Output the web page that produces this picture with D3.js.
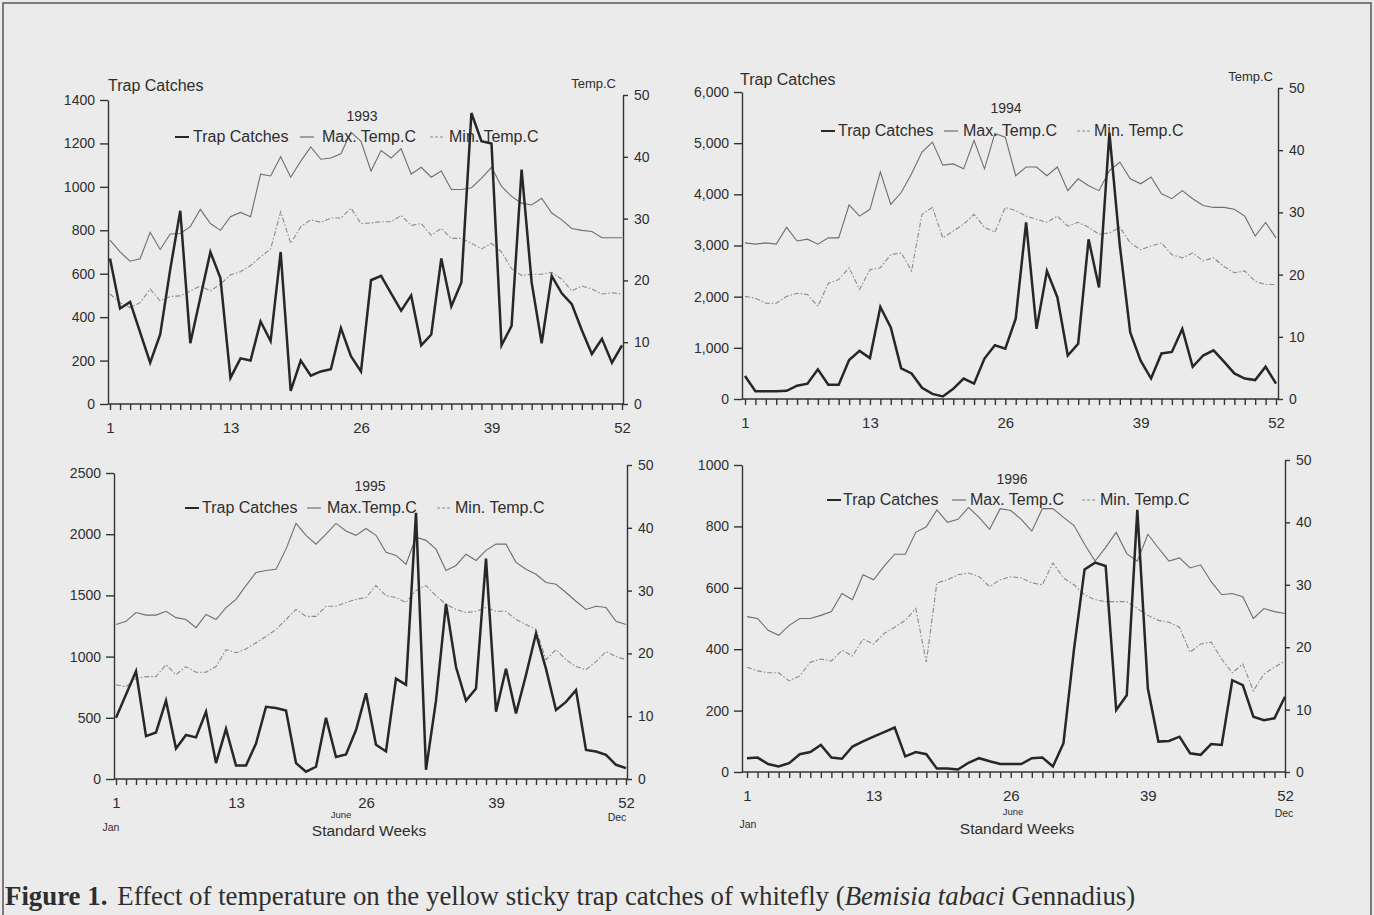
<!DOCTYPE html>
<html>
<head>
<meta charset="utf-8" />
<style>
  body { margin: 0; background: #ebebeb; }
  svg { display: block; }
  text { font-family: "Liberation Sans", Arial, sans-serif; fill: #2e2e2e; }
</style>
</head>
<body>
<svg id="fig" width="1374" height="915"></svg>
<script src="https://cdnjs.cloudflare.com/ajax/libs/d3/7.8.5/d3.min.js"></script>
<script>
var weeks = d3.range(1, 53);
var weekTicks = [1, 13, 26, 39, 52];
var tempTicks = [0, 10, 20, 30, 40, 50];
var legendNames = ['Trap Catches', 'Max. Temp.C', 'Min. Temp.C'];

var catchTicks1993 = [0, 200, 400, 600, 800, 1000, 1200, 1400];
var catchTicks1994 = [0, 1000, 2000, 3000, 4000, 5000, 6000];
var catchTicks1995 = [0, 500, 1000, 1500, 2000, 2500];
var catchTicks1996 = [0, 200, 400, 600, 800, 1000];

var catch1993 = [670,440,470,330,190,320,620,890,280,490,700,580,120,210,200,380,290,700,60,200,130,150,160,350,220,150,570,590,510,430,500,270,320,670,450,560,1340,1210,1200,270,360,1080,560,280,590,510,460,340,230,300,190,270];
var max1993 = [26.5,24.6,23.1,23.5,27.8,25.0,27.5,27.6,28.7,31.5,29.2,28.1,30.3,31.0,30.3,37.2,36.9,40.0,36.7,39.3,41.6,39.6,39.8,40.5,44.0,42.5,37.7,41.0,39.8,41.3,37.2,38.3,36.7,37.7,34.7,34.7,35.0,36.5,38.3,35.2,33.6,32.5,32.2,33.3,30.9,29.8,28.4,28.1,27.9,26.9,26.9,26.9];
var min1993 = [17.8,16.4,15.6,16.4,18.6,16.7,17.4,17.5,18.3,19.1,18.3,19.4,20.9,21.4,22.4,23.8,25.1,31.1,26.0,28.7,29.8,29.4,30.1,30.1,31.7,29.2,29.3,29.5,29.5,30.5,28.9,29.2,27.3,28.4,26.8,26.8,26.0,25.1,26.0,24.6,21.9,20.8,21.0,21.0,21.3,20.2,18.3,19.1,18.6,17.8,18.0,17.8];

var catch1994 = [450,150,150,150,160,260,300,580,280,280,760,940,800,1800,1400,600,500,220,100,50,200,400,300,790,1050,985,1570,3450,1370,2500,1990,850,1080,3120,2180,5200,3000,1300,750,400,890,920,1370,630,850,950,730,500,400,370,630,300];
var max1994 = [25.1,24.9,25.1,24.9,27.6,25.4,25.7,24.9,25.9,25.9,31.2,29.4,30.5,36.5,31.3,33.2,36.2,39.7,41.3,37.6,37.8,37.0,41.6,37.0,42.7,42.1,35.9,37.3,37.3,35.9,37.3,33.5,35.4,34.3,33.5,36.7,38.1,35.4,34.6,35.7,33.0,32.2,33.5,32.2,31.1,30.8,30.8,30.5,29.4,26.2,28.4,25.9];
var min1994 = [16.5,16.2,15.4,15.4,16.5,17.0,16.8,14.9,18.6,19.2,21.1,17.6,20.8,21.1,23.2,23.5,20.6,29.7,30.8,25.9,27.0,28.1,29.7,27.6,26.8,30.8,30.3,29.4,28.9,28.4,29.4,27.8,28.4,27.6,26.5,26.7,27.6,25.1,24.0,24.6,25.1,23.2,22.7,23.5,22.2,22.7,21.3,20.3,20.6,18.9,18.4,18.4];

var catch1995 = [500,690,880,350,380,640,250,360,340,550,130,410,110,110,290,590,580,560,130,60,100,500,180,200,400,700,280,225,820,770,2175,76,640,1430,915,640,740,1800,550,900,536,850,1190,900,563,630,726,238,225,197,116,89];
var max1995 = [24.6,25.1,26.5,26.1,26.1,26.7,25.7,25.4,24.1,26.2,25.4,27.3,28.6,30.8,32.9,33.2,33.4,36.6,40.7,38.8,37.4,39.0,40.7,39.5,38.8,39.9,38.8,36.1,35.6,34.2,38.5,38.0,36.6,33.2,34.0,35.8,34.8,36.4,37.4,37.4,34.5,33.4,32.6,31.3,31.0,29.7,28.3,27.0,27.5,27.3,25.1,24.6];
var min1995 = [15.0,14.7,16.0,16.3,16.3,18.2,16.6,17.9,17.0,17.0,17.9,20.6,20.1,20.7,21.7,22.7,23.8,25.4,27.0,25.9,25.9,27.5,27.5,28.1,28.6,28.9,30.8,29.2,28.9,28.1,30.0,30.8,29.2,27.8,27.0,26.5,26.7,27.3,26.7,26.7,25.4,24.6,23.8,19.0,20.6,19.0,17.9,17.4,18.7,20.3,19.5,19.0];

var catch1996 = [45,47,26,18,29,58,65,88,47,43,83,100,115,130,145,51,65,58,11,11,8,30,45,35,26,26,26,45,47,18,94,400,660,682,671,202,250,854,272,99,101,115,61,56,91,88,299,283,180,169,175,245];
var max1996 = [24.9,24.6,22.7,21.9,23.5,24.6,24.6,25.1,25.7,28.6,27.6,31.6,30.8,33.0,34.9,34.9,38.4,39.3,42.0,40.0,40.5,42.4,40.8,38.9,42.2,41.9,40.5,38.6,42.2,42.2,40.8,39.5,36.5,33.8,36.0,38.4,35.0,33.8,38.1,35.9,33.8,34.3,32.7,33.2,30.5,28.4,28.6,28.1,24.6,26.2,25.7,25.4];
var min1996 = [16.8,16.2,15.9,15.9,14.6,15.4,17.6,18.1,17.8,19.5,18.6,21.3,20.5,22.2,23.2,24.3,26.2,17.6,30.3,30.8,31.6,31.9,31.3,29.7,30.8,31.3,31.1,30.3,30.0,33.5,31.1,30.0,28.4,27.6,27.3,27.3,27.3,26.2,25.1,24.3,24.0,23.2,19.2,20.5,20.8,18.1,15.9,17.3,13.0,15.7,16.8,17.8];

var svg = d3.select('#fig');

// frame of the scanned page
svg.append('path')
    .attr('d', 'M3,918V3H1371V918')
    .attr('fill', 'none')
    .attr('stroke', '#555')
    .attr('stroke-width', 1.5);

var panels = [
    {title: '1993', catches: catch1993, maxT: max1993, minT: min1993, ticks: catchTicks1993, fmt: d3.format('d'),
     x0: 110, x1: 622, axL: 108, axR: 623, base: 404, topL: 100, topR: 95,
     titleX: 362, titleY: 121, legY: 137, leg: [[175, 193], [300, 322], [430, 449]],
     yLabel: [108, 91], tLabel: [616, 88], months: null},
    {title: '1994', catches: catch1994, maxT: max1994, minT: min1994, ticks: catchTicks1994, fmt: d3.format(','),
     x0: 745, x1: 1276, axL: 742, axR: 1278, base: 399, topL: 92, topR: 88,
     titleX: 1006, titleY: 113, legY: 131, leg: [[821, 838], [944, 963], [1077, 1094]],
     yLabel: [740, 85], tLabel: [1273, 81], months: null},
    {title: '1995', catches: catch1995, maxT: max1995, minT: min1995, ticks: catchTicks1995, fmt: d3.format('d'),
     x0: 116, x1: 626, axL: 114, axR: 627, base: 779, topL: 473, topR: 465,
     titleX: 370, titleY: 491, legY: 508, leg: [[185, 202], [307, 327], [437, 455]],
     yLabel: null, tLabel: null, names: ['Trap Catches', 'Max.Temp.C', 'Min. Temp.C'],
     months: {jan: [111, 831], june: [341, 818], dec: [617, 821], sw: [369, 836]}},
    {title: '1996', catches: catch1996, maxT: max1996, minT: min1996, ticks: catchTicks1996, fmt: d3.format('d'),
     x0: 747, x1: 1285, axL: 742, axR: 1285, base: 772, topL: 465, topR: 460,
     titleX: 1012, titleY: 484, legY: 500, leg: [[827, 843], [952, 970], [1082, 1100]],
     yLabel: null, tLabel: null,
     months: {jan: [748, 828], june: [1013, 815], dec: [1284, 817], sw: [1017, 834]}}
];

var styles = [
    {stroke: '#272727', width: 2.5, dash: null},
    {stroke: '#6e6e6e', width: 1.1, dash: null},
    {stroke: '#8a8a8a', width: 1.1, dash: '5,2,1.5,2'}
];

panels.forEach(function(p) {
    var g = svg.append('g');
    var x = d3.scaleLinear().domain([1, 52]).range([p.x0, p.x1]);
    var yL = d3.scaleLinear().domain([0, d3.max(p.ticks)]).range([p.base, p.topL]);
    var yR = d3.scaleLinear().domain([0, 50]).range([p.base, p.topR]);

    // week axis
    var xa = g.append('g')
        .attr('transform', 'translate(0,' + p.base + ')')
        .call(d3.axisBottom(x).tickValues(weeks).tickSize(6).tickSizeOuter(0).tickPadding(12)
            .tickFormat(function(d) { return weekTicks.indexOf(d) >= 0 ? d : ''; }));
    xa.select('.domain').remove();
    g.append('line')
        .attr('x1', p.axL).attr('x2', p.axR)
        .attr('y1', p.base).attr('y2', p.base)
        .attr('stroke', '#333').attr('stroke-width', 1.5);

    var la = g.append('g')
        .attr('transform', 'translate(' + p.axL + ',0)')
        .call(d3.axisLeft(yL).tickValues(p.ticks).tickSize(8).tickSizeOuter(0).tickPadding(5).tickFormat(p.fmt));

    var ra = g.append('g')
        .attr('transform', 'translate(' + p.axR + ',0)')
        .call(d3.axisRight(yR).tickValues(tempTicks).tickSize(5).tickSizeOuter(0).tickPadding(6));

    [xa, la, ra].forEach(function(a) {
        a.selectAll('path, line').attr('stroke', '#333').attr('stroke-width', 1.4);
        a.selectAll('text').attr('fill', '#2e2e2e').style('font-family', '"Liberation Sans", Arial, sans-serif');
    });
    xa.selectAll('text').style('font-size', '15px');
    la.selectAll('text').style('font-size', '14px');
    ra.selectAll('text').style('font-size', '14px');

    // series: max, min, then catches on top
    var tempLine = d3.line().x(function(d, i) { return x(weeks[i]); }).y(function(d) { return yR(d); });
    var catchLine = d3.line().x(function(d, i) { return x(weeks[i]); }).y(function(d) { return yL(d); });

    g.append('path').attr('d', tempLine(p.maxT))
        .attr('fill', 'none').attr('stroke', styles[1].stroke).attr('stroke-width', styles[1].width);
    g.append('path').attr('d', tempLine(p.minT))
        .attr('fill', 'none').attr('stroke', styles[2].stroke).attr('stroke-width', styles[2].width)
        .attr('stroke-dasharray', styles[2].dash);
    g.append('path').attr('d', catchLine(p.catches))
        .attr('fill', 'none').attr('stroke', styles[0].stroke).attr('stroke-width', styles[0].width)
        .attr('stroke-linejoin', 'miter');

    // title and legend
    g.append('text').attr('x', p.titleX).attr('y', p.titleY)
        .attr('text-anchor', 'middle').style('font-size', '14px').text(p.title);

    var names = p.names || legendNames;
    p.leg.forEach(function(l, i) {
        g.append('line')
            .attr('x1', l[0]).attr('x2', l[0] + 14)
            .attr('y1', p.legY).attr('y2', p.legY)
            .attr('stroke', styles[i].stroke)
            .attr('stroke-width', i == 0 ? 2 : 1.2)
            .attr('stroke-dasharray', i == 2 ? '3,2' : null);
        g.append('text').attr('x', l[1]).attr('y', p.legY + 5)
            .style('font-size', '16px').text(names[i]);
    });

    if (p.yLabel) {
        g.append('text').attr('x', p.yLabel[0]).attr('y', p.yLabel[1])
            .style('font-size', '16px').text('Trap Catches');
        g.append('text').attr('x', p.tLabel[0]).attr('y', p.tLabel[1])
            .attr('text-anchor', 'end').style('font-size', '13px').text('Temp.C');
    }

    if (p.months) {
        var m = p.months;
        g.append('text').attr('x', m.jan[0]).attr('y', m.jan[1])
            .attr('text-anchor', 'middle').style('font-size', '10.5px').text('Jan');
        g.append('text').attr('x', m.june[0]).attr('y', m.june[1])
            .attr('text-anchor', 'middle').style('font-size', '9.5px').text('June');
        g.append('text').attr('x', m.dec[0]).attr('y', m.dec[1])
            .attr('text-anchor', 'middle').style('font-size', '10.5px').text('Dec');
        g.append('text').attr('x', m.sw[0]).attr('y', m.sw[1])
            .attr('text-anchor', 'middle').style('font-size', '15.5px').text('Standard Weeks');
    }
});

// caption
var cap = svg.append('text')
    .attr('x', 5).attr('y', 905)
    .style('font-family', '"Liberation Serif", "Times New Roman", serif')
    .style('font-size', '22px')
    .style('white-space', 'pre')
    .attr('fill', '#1e1e1e');
cap.append('tspan').style('font-weight', 'bold').text('Figure 1.');
cap.append('tspan').attr('dx', 10).text('Effect of temperature on the yellow sticky trap catches of whitefly (');
cap.append('tspan').style('font-style', 'italic').text('Bemisia tabaci');
cap.append('tspan').text(' Gennadius)');
var capW = cap.node().getComputedTextLength();
cap.style('font-size', (22 * 1121 / capW) + 'px');
</script>
</body>
</html>
